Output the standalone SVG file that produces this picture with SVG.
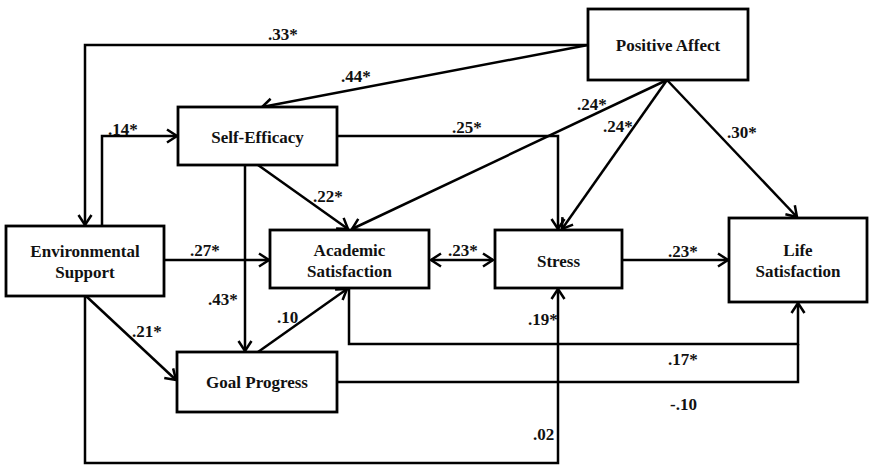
<svg xmlns="http://www.w3.org/2000/svg" width="870" height="466" viewBox="0 0 870 466">
  <style>
    .box { fill: #fff; stroke: #000; stroke-width: 2.8; }
    text { font-family: 'Liberation Serif', 'Times New Roman', Times, serif; font-size: 17px; font-weight: bold; fill: #111; }
    .node { text-anchor: middle; }
    .edge { fill: none; stroke: #000; stroke-width: 2.5; }
    .arr { marker-end: url(#head); }
  </style>
  <defs>
    <marker id="head" markerUnits="userSpaceOnUse" markerWidth="16" markerHeight="16" viewBox="-12 -8 14 16" refX="0" refY="0" orient="auto-start-reverse">
      <path d="M-10,-6.5 L0,0 L-10,6.5" fill="none" stroke="#000" stroke-width="2.5"/>
    </marker>
  </defs>

  <rect width="870" height="466" fill="#fff"/>

  <g id="connectors">
    <!-- Positive Affect paths -->
    <path class="edge arr" d="M588,45 H85 V225"/>
    <path class="edge arr" d="M588,45 L262,107"/>
    <path class="edge arr" d="M667,80 L352,229"/>
    <path class="edge arr" d="M667,80 L562,229"/>
    <path class="edge arr" d="M667,80 L797,217"/>
    <!-- Environmental Support paths -->
    <path class="edge arr" d="M102,226 V136 H177"/>
    <path class="edge arr" d="M164,260 H269"/>
    <path class="edge arr" d="M86,296 L176,380"/>
    <path class="edge arr" d="M85,296 V463 H558 V289"/>
    <!-- Self-Efficacy paths -->
    <path class="edge arr" d="M337,136 H558 V229"/>
    <path class="edge arr" d="M258,165 L348,229"/>
    <path class="edge arr" d="M245,165 V351"/>
    <!-- Goal Progress paths -->
    <path class="edge arr" d="M258,352 L347,289"/>
    <path class="edge" d="M337,382 H798 V344"/>
    <!-- Academic Satisfaction paths -->
    <path class="edge arr" d="M349,288 V344 H798 V303"/>
    <path class="edge" d="M431,260 H493" marker-start="url(#head)" marker-end="url(#head)"/>
    <!-- Stress to Life Satisfaction -->
    <path class="edge arr" d="M622,260 H728"/>

    <!-- path coefficients -->
    <text x="268" y="40">.33*</text>
    <text x="341" y="82">.44*</text>
    <text x="108" y="135">.14*</text>
    <text x="452" y="133">.25*</text>
    <text x="577" y="110">.24*</text>
    <text x="603" y="132">.24*</text>
    <text x="727" y="138">.30*</text>
    <text x="313" y="202">.22*</text>
    <text x="190" y="256">.27*</text>
    <text x="448" y="256">.23*</text>
    <text x="668" y="257">.23*</text>
    <text x="208" y="305">.43*</text>
    <text x="132" y="337">.21*</text>
    <text x="277" y="323">.10</text>
    <text x="528" y="325">.19*</text>
    <text x="668" y="365">.17*</text>
    <text x="670" y="410">-.10</text>
    <text x="533" y="440">.02</text>
  </g>

  <g id="positive-affect">
    <rect class="box" x="588" y="9" width="160" height="71"/>
    <text class="node" x="668" y="51">Positive Affect</text>
  </g>
  <g id="self-efficacy">
    <rect class="box" x="178" y="107" width="159" height="58"/>
    <text class="node" x="257.5" y="143">Self-Efficacy</text>
  </g>
  <g id="environmental-support">
    <rect class="box" x="6" y="226" width="158" height="70"/>
    <text class="node" x="85" y="257">Environmental</text>
    <text class="node" x="85" y="278">Support</text>
  </g>
  <g id="academic-satisfaction">
    <rect class="box" x="270" y="230" width="159" height="58"/>
    <text class="node" x="349.5" y="256">Academic</text>
    <text class="node" x="349.5" y="277">Satisfaction</text>
  </g>
  <g id="stress">
    <rect class="box" x="495" y="230" width="127" height="58"/>
    <text class="node" x="558.5" y="267">Stress</text>
  </g>
  <g id="life-satisfaction">
    <rect class="box" x="729" y="218" width="138" height="84"/>
    <text class="node" x="798" y="256">Life</text>
    <text class="node" x="798" y="277">Satisfaction</text>
  </g>
  <g id="goal-progress">
    <rect class="box" x="177" y="352" width="160" height="60"/>
    <text class="node" x="257" y="388">Goal Progress</text>
  </g>
</svg>
